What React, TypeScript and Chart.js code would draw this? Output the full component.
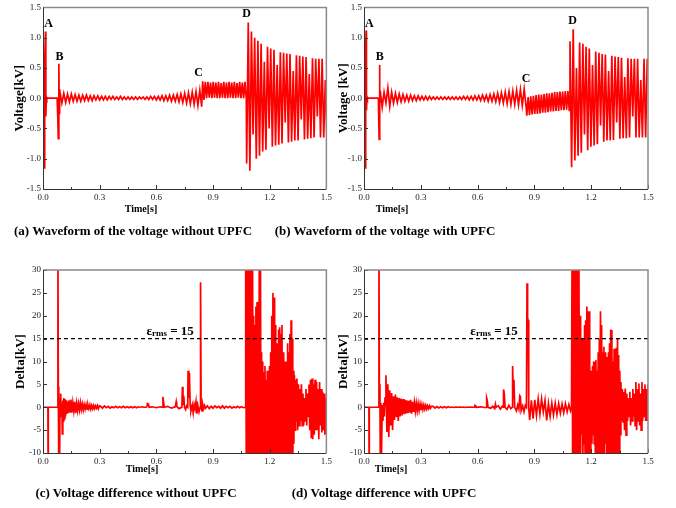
import React, { useEffect, useRef } from 'react';
import { Chart, registerables } from 'chart.js';
Chart.register(...registerables);

type Pt = { x: number; y: number };
const pairs = (a: number[][]): Pt[] => a.map(([x, y]) => ({ x, y }));
const seq = (t0: number, dt: number, v: number[]): Pt[] =>
  v.map((y, i) => ({ x: +(t0 + i * dt).toFixed(4), y }));

// ---------- axis ticks ----------
const timeMin = 0;
const timeMax = 1.5;
const timeStep = 0.3;
const voltTicks = { min: -1.5, max: 1.5, step: 0.5 };
const deltaTicks = { min: -10, max: 30, step: 5 };

// ---------- (a) voltage without UPFC ----------
const aStart = [[0, 0], [0.001, 0.55], [0.003, -0.4], [0.006, -1.15], [0.008, 0.3], [0.01, 0.6], [0.013, 1.1], [0.015, -0.3], [0.018, 0.02], [0.02, 0], [0.075, 0], [0.078, -0.3], [0.081, -0.67], [0.084, 0.57], [0.086, -0.25], [0.088, 0.15]];
const aRing = [
  0.1, -0.08, 0.08, -0.07, 0.07, -0.06, 0.07, -0.05, 0.06, -0.05,
  0.05, -0.05, 0.05, -0.04, 0.05, -0.04, 0.04, -0.04, 0.04, -0.03,
  0.04, -0.03, 0.03, -0.03, 0.03, -0.03, 0.03, -0.02, 0.03, -0.02,
  0.02, -0.02, 0.03, -0.02, 0.02, -0.02, 0.02, -0.02, 0.02, -0.02,
  0.02, -0.02, 0.02, -0.01, 0.02, -0.02, 0.02, -0.02, 0.03, -0.02,
  0.03, -0.03, 0.03, -0.03, 0.04, -0.04, 0.04, -0.04, 0.05, -0.05,
  0.05, -0.05, 0.06, -0.06, 0.07, -0.07, 0.08, -0.08, 0.09, -0.09,
  0.1, -0.1, 0.11, -0.12, 0.13, -0.14];
const aC = [0.28, -0.03, 0.27, 0.0, 0.27, 0.01, 0.26, 0.0, 0.27, 0.01, 0.26, 0.0, 0.27, 0.0, 0.25, 0.01, 0.27, 0.0, 0.26, 0.0, 0.27, 0.01, 0.26, 0.0, 0.27, 0.0, 0.25, 0.01, 0.27, 0.0, 0.26, 0.0, 0.27, 0.0];
const aD = [
  -1.08, 1.25, -1.2, 1.1, -0.6, 1.0, -1.0, 0.95, -0.95, 0.9,
  -0.88, 0.6, -0.85, 0.85, -0.5, 0.82, -0.8, 0.8, -0.78, 0.55,
  -0.77, 0.76, -0.75, 0.75, -0.4, 0.74, -0.73, 0.73, -0.72, 0.45,
  -0.7, 0.71, -0.7, 0.7, -0.35, 0.69, -0.68, 0.68, -0.67, 0.4,
  -0.66, 0.66, -0.65, 0.65, -0.3, 0.65, -0.65, 0.65, -0.65, 0.3, -0.65];

// ---------- (b) voltage with UPFC ----------
const bStart = [[0, 0], [0.002, 1.0], [0.004, -0.3], [0.006, -1.15], [0.009, 0.5], [0.011, 1.12], [0.013, -0.2], [0.016, 0.02], [0.018, 0], [0.076, 0], [0.078, -0.4], [0.08, -0.68], [0.082, 0.55], [0.084, -0.1]];
const bRing = [
  0.12, -0.15, 0.1, -0.08, 0.17, -0.14, 0.1, -0.08, 0.08, -0.07,
  0.07, -0.06, 0.06, -0.05, 0.05, -0.05, 0.05, -0.04, 0.04, -0.04,
  0.04, -0.03, 0.03, -0.03, 0.03, -0.03, 0.03, -0.02, 0.02, -0.02,
  0.02, -0.02, 0.02, -0.02, 0.02, -0.02, 0.02, -0.02, 0.02, -0.02,
  0.02, -0.02, 0.02, -0.02, 0.03, -0.02, 0.03, -0.03, 0.03, -0.03,
  0.04, -0.03, 0.04, -0.04, 0.05, -0.04, 0.05, -0.05, 0.06, -0.05,
  0.07, -0.06, 0.08, -0.07, 0.09, -0.08, 0.1, -0.09, 0.11, -0.1,
  0.12, -0.1, 0.13, -0.11, 0.14, -0.12, 0.15, -0.13];
const bC = [-0.29, 0.02, -0.28, 0.03, -0.27, 0.04, -0.26, 0.05, -0.26, 0.06, -0.25, 0.06, -0.24, 0.07, -0.24, 0.08, -0.23, 0.08, -0.22, 0.09, -0.22, 0.1, -0.21, 0.1, -0.21, 0.11, -0.2, 0.11, -0.2, 0.12, -0.19, 0.12, -0.2];
const bD = [
  0.94, -1.14, 1.14, -1.03, 0.5, -0.95, 0.92, -0.9, 0.9, -0.6,
  0.85, -0.86, 0.82, -0.8, 0.55, -0.78, 0.77, -0.76, 0.75, -0.45,
  0.73, -0.72, 0.72, -0.7, 0.45, -0.7, 0.7, -0.69, 0.69, -0.4,
  0.68, -0.67, 0.67, -0.66, 0.35, -0.66, 0.66, -0.65, 0.65, -0.3,
  0.65, -0.65, 0.65, -0.65, 0.3, -0.65, 0.65, -0.65, 0.65];

// ---------- (c) difference without UPFC ----------
const cStart = [[0, 0], [0.026, 0], [0.027, -12], [0.028, 0], [0.078, 0], [0.079, 35], [0.081, 4.5], [0.083, 4], [0.084, -12], [0.086, 1], [0.088, -12], [0.09, 2], [0.092, -2], [0.095, 3], [0.097, -2], [0.1, 1], [0.102, -5.8], [0.105, 1.5], [0.108, -3], [0.11, 2], [0.113, -2.5], [0.116, 1.8], [0.119, -2], [0.122, 1.5], [0.125, -1.5]];
const cRing = [
  1.2, -1.3, 1.5, -1.0, 1.7, -1.2, 1.0, -0.8, 1.2, -1.3,
  0.9, -0.7, 0.8, -0.6, 1.0, -0.5, 0.7, -0.6, 0.6, -0.4,
  0.6, -0.4, 0.5, -0.3, 0.5, -0.4, 0.4, -0.3, 0.4, -0.3,
  0.3, -0.2, 0.4, -0.3, 0.3];
const cQuiet = [0.2, -0.2, 0.3, -0.1, 0.2, -0.2, 0.1, -0.1, 0.2, -0.1, 0.1, -0.1, 0.2, -0.1, 0.1, -0.1, 0.1, -0.1, 0.1, -0.1, 0.1, 0, 0.1, 0];
const cBumps = [[0.545, 0], [0.55, 0.1], [0.553, 0.8], [0.558, 0.7], [0.562, 0], [0.58, 0.1], [0.6, -0.1], [0.62, 0.1], [0.632, 0], [0.635, 2.3], [0.638, 1.2], [0.642, 0], [0.66, 0.2], [0.68, -0.2], [0.7, 0.1], [0.705, 1.2], [0.708, 0.2], [0.72, -0.3], [0.735, 0], [0.738, 4.5], [0.741, 0.5], [0.745, 2.5], [0.749, 0], [0.755, -0.5], [0.76, 0.3], [0.766, 0], [0.768, 8], [0.772, 2], [0.775, 7.5], [0.779, 0.5], [0.783, -0.8], [0.79, 0.5], [0.795, -1.2], [0.8, 0.6], [0.805, -0.4], [0.81, 1.2], [0.815, -1.4], [0.82, 0.3], [0.826, -1], [0.832, 0], [0.834, 27.3], [0.837, 0], [0.842, -0.8], [0.846, 0.5], [0.85, -0.3], [0.855, 0.4], [0.86, -0.2]];
const cPre = [0.3, -0.3, 0.2, -0.2, 0.3, -0.1, 0.2, -0.2, 0.3, -0.2, 0.2, -0.1, 0.2, -0.2, 0.1, -0.1, 0.2, -0.1, 0.1, -0.1];
const cFault = [
  0, 35, -15, 35, -15, 35, -12, 30, -15, 35,
  -15, 35, -15, 35, -10, 20, -15, 18, -15, 22,
  -15, 23, -15, 15, -15, 35, -15, 35, -15, 12,
  -15, 10, -15, 7.7, -12, 9, -15, 6, -15, 8,
  -15, 7, -15, 9, -15, 12, -15, 20, -15, 25,
  -15, 24, -12, 18, -15, 14, -15, 10, -15, 17,
  -15, 17.5, -15, 16, -10, 18, -15, 12, -15, 10,
  -15, 10, -12, 8, -15, 14, -15, 12, -15, 16,
  -15, 19, -12, 15, -15, 8, -8, 7, -5, 6];
const cTail = [
  -3, 6.3, -5, 5, -4, 4, -3, 5, -4, 3,
  -4, 2, -3, 4, -4, 3, -2, 5, -5, 6,
  -6.8, 6.3, -7, 5, -6, 6, -5, 5.5, -5, 4,
  -7, 5.5, -4, 4, -5.5, 3.4, -5, 3, -6, 2, -5.8];

// ---------- (d) difference with UPFC ----------
const dStart = [[0, 0], [0.026, 0], [0.027, -12], [0.028, 0], [0.078, 0], [0.079, 35], [0.081, 4.8], [0.084, 5], [0.086, -12], [0.089, 1], [0.092, -12], [0.096, 0.5], [0.1, -3], [0.104, 1], [0.107, -2]];
const dRing = [
  2, 7, -5.4, 5, -6.5, 3.7, -4, 3.1, -5, 2.4,
  -2.8, 2.8, -2.2, 2.2, -3, 2.0, -2.0, 1.9, -1.8, 1.8,
  -1.5, 1.6, -1.4, 1.5, -1.3, 1.4, -1.2, 1.6, -1.4, 1.2,
  -1.0, 1.0, -0.9, 0.9, -0.8, 0.8, -0.7, 0.7, -0.6, 0.6,
  -0.5, 0.5, -0.4, 0.4, -0.4, 0.3, -0.3, 0.3, -0.2, 0.2];
const dQuiet = [0.2, -0.2, 0.15, -0.15, 0.1, -0.1, 0.1, -0.1, 0.1, -0.05, 0.05, -0.05, 0.05, 0, 0.05, 0, 0.05, -0.05, 0.05, 0, 0.05, 0];
const dBumps = [[0.583, 0], [0.586, 0.4], [0.59, 0.3], [0.594, 0], [0.62, 0.1], [0.64, -0.1], [0.646, 0], [0.648, 2.0], [0.651, 1.5], [0.655, 0], [0.67, -0.2], [0.68, 0.2], [0.69, -0.3], [0.694, 0.7], [0.698, 0], [0.71, 0.3], [0.72, -0.4], [0.73, 0.2], [0.735, 0], [0.737, 3.9], [0.741, 3.0], [0.745, 0], [0.755, -0.5], [0.765, 0.4], [0.775, -0.3], [0.783, 0], [0.785, 9], [0.789, 2], [0.792, 6], [0.796, 0], [0.805, -0.8], [0.812, 0.5], [0.818, -0.4], [0.823, 2.5], [0.826, 2.3], [0.83, -0.8], [0.838, 0.3], [0.845, -1], [0.852, 0.4], [0.858, 0], [0.861, 27.1], [0.864, 19.6], [0.867, 19], [0.87, 0]];
const dPost = [-2.8, 1.5, -2.5, 1.6, -1.8, 1.8, -1.5, 1.8, -1.0, 1.5, -2.9, 0.8, -2.0, 0.9, -1.7, 0.9, -1.6, 0.8, -1.3, 0.7, -1.2, 0.8, -1.0, 0.6, -0.8];
const dFault = [
  0, 35, -15, 35, -15, 35, -15, 30, -15, 35,
  -15, 35, -15, 35, -8, 20, -10, 12, -6, 15,
  -12, 10, -8, 18, -15, 19, -15, 22, -15, 21,
  -15, 21, -15, 8, -10, 6, -8, 9, -6, 10,
  -8, 10, -12, 10.3, -15, 8, -15, 12, -15, 15,
  -15, 21, -15, 18, -12, 12, -10, 13.2, -12, 12,
  -8, 11, -10, 8, -15, 12, -15, 14, -15, 17,
  -15, 16.9, -15, 10, -15, 12.8, -15, 9, -12, 13,
  -15, 15, -15, 11.4, -10, 8, -6, 5.5];
const dTail = [
  -3, 4, -3.2, 3.4, -5, 4.1, -6.1, 3, -3, 2,
  -2, 3.4, -4, 2, -3, 4, -2, 3, -4, 5.5,
  -5, 4, -3, 5.2, -4, 3, -5, 5.5, -3, 4,
  -2, 5, -3, 4, -3, 5];

// ---------- annotations ----------
const eventNames = ['A', 'B', 'C', 'D'];
const aEventT = [0.03, 0.088, 0.824, 1.078];
const aEventV = [1.23, 0.685, 0.424, 1.386];
const bEventT = [0.028, 0.083, 0.856, 1.102];
const bEventV = [1.23, 0.677, 0.326, 1.27];
const threshold = 15;
const thresholdLabelMain = 'ε';
const thresholdLabelSub = 'rms';
const thresholdLabelRest = ' = 15';
const cThrLabelT = 0.673;
const dThrLabelT = 0.687;
const thrLabelV = 16.7;

const FONT = '"Liberation Serif", "Times New Roman", serif';

const seriesA: Pt[] = [...pairs(aStart), ...seq(0.09, 0.01, aRing), ...seq(0.845, 0.007, aC), ...seq(1.078, 0.0085, aD)];
const seriesB: Pt[] = [...pairs(bStart), ...seq(0.086, 0.01, bRing), ...seq(0.86, 0.007, bC), ...seq(1.088, 0.0085, bD)];
const seriesC: Pt[] = [...pairs(cStart), ...seq(0.128, 0.005, cRing), ...seq(0.305, 0.01, cQuiet), ...pairs(cBumps), ...seq(0.87, 0.01, cPre), ...seq(1.07, 0.003, cFault), ...seq(1.34, 0.004, cTail)];
const seriesD: Pt[] = [...pairs(dStart), ...seq(0.111, 0.005, dRing), ...seq(0.365, 0.01, dQuiet), ...pairs(dBumps), ...seq(0.875, 0.009, dPost), ...seq(1.096, 0.003, dFault), ...seq(1.36, 0.004, dTail)];

const framePlugin = {
  id: 'frame',
  afterDatasetsDraw(chart: any, _a: any, opts: any) {
    const { ctx, chartArea } = chart;
    const { left, right, top, bottom } = chartArea;
    const xs = chart.scales.x;
    const ys = chart.scales.y;
    ctx.save();
    ctx.strokeStyle = '#333';
    ctx.lineWidth = 1;
    ctx.beginPath();
    const xt = xs.ticks.map((t: any) => t.value);
    xt.forEach((v: number, i: number) => {
      const px = Math.round(xs.getPixelForValue(v)) + 0.5;
      ctx.moveTo(px, bottom);
      ctx.lineTo(px, bottom - 4);
      if (i < xt.length - 1) {
        const m = Math.round(xs.getPixelForValue((v + xt[i + 1]) / 2)) + 0.5;
        ctx.moveTo(m, bottom);
        ctx.lineTo(m, bottom - 2);
      }
    });
    ys.ticks.forEach((t: any) => {
      const py = Math.round(ys.getPixelForValue(t.value)) + 0.5;
      ctx.moveTo(left, py);
      ctx.lineTo(left + 4, py);
    });
    ctx.stroke();
    ctx.strokeStyle = '#8a8a8a';
    ctx.lineWidth = 1.5;
    ctx.beginPath();
    ctx.moveTo(left, top);
    ctx.lineTo(right, top);
    ctx.lineTo(right, bottom);
    ctx.stroke();
    ctx.strokeStyle = '#333';
    ctx.lineWidth = 1;
    ctx.beginPath();
    ctx.moveTo(left + 0.5, top);
    ctx.lineTo(left + 0.5, bottom + 0.5);
    ctx.lineTo(right, bottom + 0.5);
    ctx.stroke();
    ctx.fillStyle = '#000';
    ctx.textAlign = 'center';
    ctx.textBaseline = 'middle';
    ctx.font = `bold 12px ${FONT}`;
    (opts.events || []).forEach((e: any) => {
      ctx.fillText(e.text, xs.getPixelForValue(e.t), ys.getPixelForValue(e.v));
    });
    if (opts.thr) {
      const cx = xs.getPixelForValue(opts.thr.t);
      const cy = ys.getPixelForValue(opts.thr.v) + 4;
      const big = `bold 13px ${FONT}`;
      const small = `bold 9px ${FONT}`;
      ctx.font = big;
      const w1 = ctx.measureText(thresholdLabelMain).width;
      const w3 = ctx.measureText(thresholdLabelRest).width;
      ctx.font = small;
      const w2 = ctx.measureText(thresholdLabelSub).width;
      let x = cx - (w1 + w2 + w3) / 2;
      ctx.textAlign = 'left';
      ctx.textBaseline = 'alphabetic';
      ctx.font = big;
      ctx.fillText(thresholdLabelMain, x, cy);
      x += w1;
      ctx.font = small;
      ctx.fillText(thresholdLabelSub, x, cy + 1);
      x += w2;
      ctx.font = big;
      ctx.fillText(thresholdLabelRest, x, cy);
    }
    ctx.restore();
  },
};

interface PanelCfg {
  left: number; top: number; w: number; h: number;
  yAxisW: number; padTop: number; padRight: number; xAxisH: number; titlePad: number;
  yr: { min: number; max: number; step: number }; decimals: number; yTitle: string;
  series: Pt[]; events?: { text: string; t: number; v: number }[];
  thr?: { t: number; v: number };
}

function Panel({ cfg }: { cfg: PanelCfg }) {
  const ref = useRef<HTMLCanvasElement>(null);
  useEffect(() => {
    const datasets: any[] = [
      {
        data: cfg.series,
        showLine: true,
        borderColor: '#ff0000',
        borderWidth: 1.7,
        pointRadius: 0,
        tension: 0,
        order: 2,
      },
    ];
    if (cfg.thr) {
      datasets.push({
        data: [{ x: timeMin, y: threshold }, { x: timeMax, y: threshold }],
        showLine: true,
        borderColor: '#000',
        borderWidth: 1.2,
        borderDash: [4, 3],
        pointRadius: 0,
        order: 1,
      });
    }
    const tickFont = { family: FONT, size: 9 };
    const chart = new Chart(ref.current as HTMLCanvasElement, {
      type: 'scatter',
      data: { datasets },
      options: {
        animation: false,
        responsive: false,
        devicePixelRatio: 1,
        layout: { padding: { left: 0, right: cfg.padRight, top: cfg.padTop, bottom: 0 } },
        plugins: {
          legend: { display: false },
          tooltip: { enabled: false },
          frame: { events: cfg.events, thr: cfg.thr },
        } as any,
        scales: {
          x: {
            type: 'linear',
            min: timeMin,
            max: timeMax,
            ticks: {
              stepSize: timeStep,
              autoSkip: false,
              maxRotation: 0,
              padding: 3,
              color: '#222',
              font: tickFont,
              callback: (v: any) => Number(v).toFixed(1),
            },
            grid: { display: false, drawTicks: false },
            border: { display: false },
            afterFit: (s: any) => { s.height = cfg.xAxisH; },
          },
          y: {
            min: cfg.yr.min,
            max: cfg.yr.max,
            ticks: {
              stepSize: cfg.yr.step,
              autoSkip: false,
              padding: 2,
              color: '#222',
              font: tickFont,
              callback: (v: any) => Number(v).toFixed(cfg.decimals),
            },
            grid: { display: false, drawTicks: false },
            border: { display: false },
            title: {
              display: true,
              text: cfg.yTitle,
              color: '#000',
              font: { family: FONT, size: 13, weight: 'bold' },
              padding: { top: cfg.titlePad, bottom: 0 },
            },
            afterFit: (s: any) => { s.width = cfg.yAxisW; },
          },
        },
      } as any,
      plugins: [framePlugin],
    });
    return () => chart.destroy();
  }, []);
  return (
    <canvas
      ref={ref}
      width={cfg.w}
      height={cfg.h}
      style={{ position: 'absolute', left: cfg.left, top: cfg.top, width: cfg.w, height: cfg.h }}
    />
  );
}

function Txt({ x, y, size, children }: { x: number; y: number; size: number; children: React.ReactNode }) {
  return (
    <div
      style={{
        position: 'absolute', left: x, top: y, transform: 'translate(-50%, -50%)',
        fontFamily: FONT, fontWeight: 'bold', fontSize: size, whiteSpace: 'nowrap', color: '#000', lineHeight: 1,
      }}
    >
      {children}
    </div>
  );
}

const ev = (ts: number[], vs: number[]) => eventNames.map((text, i) => ({ text, t: ts[i], v: vs[i] }));

const panels: PanelCfg[] = [
  { left: 0, top: 0, w: 335, h: 215, yAxisW: 43, padTop: 5, padRight: 8, xAxisH: 26, titlePad: 12, yr: voltTicks, decimals: 1, yTitle: 'Voltage[kV]', series: seriesA, events: ev(aEventT, aEventV) },
  { left: 330, top: 0, w: 340, h: 215, yAxisW: 34, padTop: 5, padRight: 22, xAxisH: 26, titlePad: 6, yr: voltTicks, decimals: 1, yTitle: 'Voltage [kV]', series: seriesB, events: ev(bEventT, bEventV) },
  { left: 0, top: 262, w: 335, h: 215, yAxisW: 43, padTop: 8, padRight: 8, xAxisH: 24, titlePad: 13, yr: deltaTicks, decimals: 0, yTitle: 'Delta[kV]', series: seriesC, thr: { t: cThrLabelT, v: thrLabelV } },
  { left: 330, top: 262, w: 340, h: 215, yAxisW: 34, padTop: 8, padRight: 22, xAxisH: 24, titlePad: 6, yr: deltaTicks, decimals: 0, yTitle: 'Delta[kV]', series: seriesD, thr: { t: dThrLabelT, v: thrLabelV } },
];

export default function App() {
  return (
    <div style={{ position: 'fixed', left: 0, top: 0, width: 676, height: 508, background: '#fff', overflow: 'hidden' }}>
      {panels.map((p, i) => <Panel key={i} cfg={p} />)}
      <Txt x={141} y={209} size={10}>Time[s]</Txt>
      <Txt x={392} y={209} size={10}>Time[s]</Txt>
      <Txt x={142} y={469} size={10}>Time[s]</Txt>
      <Txt x={391} y={469} size={10}>Time[s]</Txt>
      <Txt x={133} y={230} size={13}>(a) Waveform of the voltage without UPFC</Txt>
      <Txt x={385} y={230} size={13}>(b) Waveform of the voltage with UPFC</Txt>
      <Txt x={136} y={492} size={13}>(c) Voltage difference without UPFC</Txt>
      <Txt x={384} y={492} size={13}>(d) Voltage difference with UPFC</Txt>
    </div>
  );
}
